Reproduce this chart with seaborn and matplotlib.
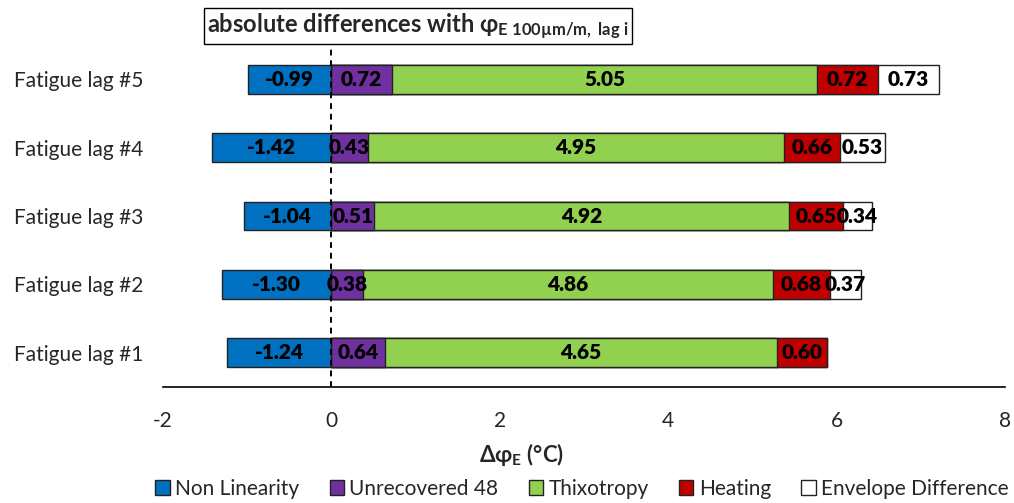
import matplotlib
matplotlib.use("Agg")
import matplotlib.pyplot as plt
from matplotlib.patches import Patch
import seaborn as sns
import numpy as np

# ---- data (top to bottom as displayed) ----
categories = ["Fatigue lag #5", "Fatigue lag #4", "Fatigue lag #3", "Fatigue lag #2", "Fatigue lag #1"]
non_linearity = [-0.99, -1.42, -1.04, -1.30, -1.24]
unrecovered = [0.72, 0.43, 0.51, 0.38, 0.64]
thixotropy = [5.05, 4.95, 4.92, 4.86, 4.65]
heating = [0.72, 0.66, 0.65, 0.68, 0.60]
envelope = [0.73, 0.53, 0.34, 0.37, 0.0]
series_names = ["Non Linearity", "Unrecovered 48", "Thixotropy", "Heating", "Envelope Difference"]
x_ticks = [-2, 0, 2, 4, 6, 8]

colors = ["#0070C0", "#7030A0", "#92D050", "#C00000", "#FFFFFF"]

sns.set_style("white")
plt.rcParams['font.family'] = ['Lato', 'DejaVu Sans']
plt.rcParams['mathtext.fontset'] = 'custom'
plt.rcParams['mathtext.rm'] = 'Lato'
plt.rcParams['mathtext.bf'] = 'Lato:bold'
plt.rcParams['mathtext.it'] = 'Lato:italic'

fig = plt.figure(figsize=(10.14, 5.03), dpi=100)
ax = fig.add_axes([163/1014, 1-387/503, (1005-163)/1014, (387-45)/503])

edge = "#222222"
lw = 1.0
bw = 0.42

# positive stack via cumulative overlay (largest first)
pos = [unrecovered, thixotropy, heating, envelope]
cums = np.cumsum(np.array(pos), axis=0)
for i in range(len(pos) - 1, -1, -1):
    sns.barplot(x=cums[i], y=categories, orient='h', color=colors[i + 1], saturation=1,
                width=bw, edgecolor=edge, linewidth=lw, errorbar=None, ax=ax)
sns.barplot(x=non_linearity, y=categories, orient='h', color=colors[0], saturation=1,
            width=bw, edgecolor=edge, linewidth=lw, errorbar=None, ax=ax)

# labels
lab_kw = dict(ha='center', va='center', fontsize=15, fontweight='heavy', color='black')
for j, cat in enumerate(categories):
    ax.text(non_linearity[j] / 2, j, f"{non_linearity[j]:.2f}", **lab_kw)
    left = 0.0
    for i, vals in enumerate(pos):
        v = vals[j]
        if v > 0:
            ax.text(left + v / 2, j, f"{v:.2f}", **lab_kw)
        left += v

ax.axvline(0, color='black', ls=(0, (3, 2.5)), lw=1.4, zorder=5)

ax.set_xlim(-2, 8)
ax.set_ylim(4.5, -0.5)
ax.set_xticks(x_ticks)
ax.set_xticklabels([str(t) for t in x_ticks])
ax.set_xlabel("")
ax.set_ylabel("")
ax.tick_params(axis='both', length=0, labelsize=15)
ax.tick_params(axis='x', pad=17)
ax.tick_params(axis='y', pad=14, labelsize=15)
for s in ["top", "right", "left"]:
    ax.spines[s].set_visible(False)
ax.spines["bottom"].set_color("#000000")
ax.spines["bottom"].set_linewidth(1.2)

fig.text(522/1014, 1-455/503, r"Δφ$_{\mathbf{E}}$ (°C)", ha='center', va='center',
         fontsize=16, fontweight='bold')

fig.text(418/1014, 1-26/503, r"absolute differences with φ$_{\mathbf{E\ 100µm/m,\ lag\ i}}$",
         ha='center', va='center', fontsize=17, fontweight='bold',
         bbox=dict(boxstyle='square,pad=0.15', fc='white', ec='black', lw=1))

handles = [Patch(facecolor=c, edgecolor=edge, linewidth=1) for c in colors]
fig.legend(handles, series_names, loc='center', bbox_to_anchor=(582/1014, 1-489/503), ncol=5,
           frameon=False, handlelength=0.7, handleheight=0.7, handletextpad=0.25,
           columnspacing=1.45, fontsize=15)

fig.savefig("out.png", dpi=100)
